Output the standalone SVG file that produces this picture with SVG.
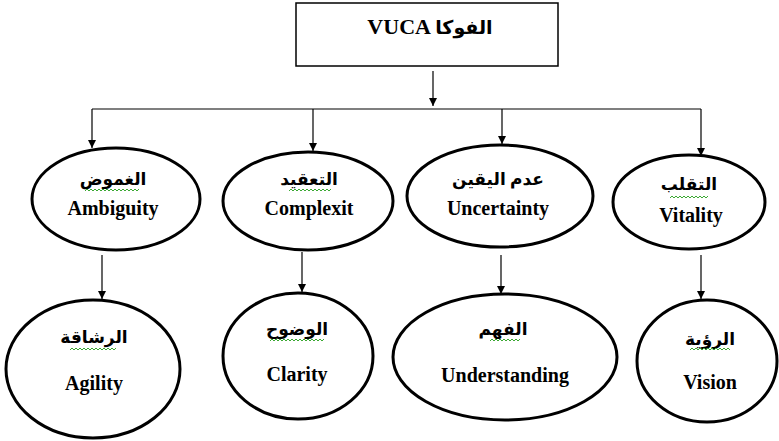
<svg xmlns="http://www.w3.org/2000/svg" width="779" height="441" viewBox="0 0 779 441">
<defs>
<marker id="ah" markerWidth="8" markerHeight="8" refX="8" refY="4" orient="auto" markerUnits="userSpaceOnUse">
<path d="M0,0 L8,4 L0,8 Z" fill="#000"/>
</marker>
<style>
.ell{fill:#fff;stroke:#000;stroke-width:3}
.box{fill:#fff;stroke:#000;stroke-width:1.5}
.con{fill:none;stroke:#000;stroke-width:1.2}
.en{font-family:'Liberation Serif','DejaVu Serif',serif;font-weight:700;font-size:20px;fill:#000;text-anchor:middle}
.ar{font-family:'Liberation Serif','DejaVu Sans',serif;font-weight:700;font-size:17px;fill:#000;text-anchor:middle}
.sq{fill:none;stroke:#3aa832;stroke-width:1}
</style>
</defs>
<rect width="779" height="441" fill="#fff"/>
<g id="connectors">
<line class="con" x1="433" y1="71" x2="433" y2="106" marker-end="url(#ah)"/>
<line class="con" x1="92" y1="109" x2="701" y2="109"/>
<line class="con" x1="92" y1="109" x2="92" y2="148" marker-end="url(#ah)"/>
<line class="con" x1="313" y1="109" x2="313" y2="151" marker-end="url(#ah)"/>
<line class="con" x1="502" y1="109" x2="502" y2="144" marker-end="url(#ah)"/>
<line class="con" x1="701" y1="109" x2="701" y2="156" marker-end="url(#ah)"/>
<line class="con" x1="102" y1="255" x2="102" y2="299" marker-end="url(#ah)"/>
<line class="con" x1="302" y1="252" x2="302" y2="292" marker-end="url(#ah)"/>
<line class="con" x1="501" y1="255" x2="501" y2="294" marker-end="url(#ah)"/>
<line class="con" x1="701" y1="255" x2="701" y2="299" marker-end="url(#ah)"/>
</g>
<g id="vuca">
<rect class="box" x="296" y="3" width="262" height="63"/>
<text class="en" x="430" y="34" font-size="22px" style="font-size:22px">VUCA <tspan class="ar" style="font-size:19px">الفوكا</tspan></text>
</g>
<g id="ambiguity">
<ellipse class="ell" cx="116" cy="199" rx="84" ry="51"/>
<text class="ar" x="113" y="185">الغموض</text>
<path class="sq" d="M85,191 l2,-2 l2,2 l2,-2 l2,2 l2,-2 l2,2 l2,-2 l2,2 l2,-2 l2,2 l2,-2 l2,2 l2,-2 l2,2 l2,-2 l2,2 l2,-2 l2,2 l2,-2 l2,2 l2,-2 l2,2 l2,-2 l2,2 l2,-2 l2,2 l2,-2"/>
<text class="en" x="113" y="215">Ambiguity</text>
</g>
<g id="complexity">
<ellipse class="ell" cx="308" cy="201" rx="85" ry="49"/>
<text class="ar" x="309" y="185">التعقيد</text>
<path class="sq" d="M289,191 l2,-2 l2,2 l2,-2 l2,2 l2,-2 l2,2 l2,-2 l2,2 l2,-2 l2,2 l2,-2 l2,2 l2,-2 l2,2 l2,-2 l2,2 l2,-2 l2,2 l2,-2 l2,2 l2,-2"/>
<text class="en" x="309" y="215">Complexit</text>
</g>
<g id="uncertainty">
<ellipse class="ell" cx="500" cy="196" rx="93" ry="51"/>
<text class="ar" x="498" y="185">عدم اليقين</text>
<text class="en" x="498" y="215">Uncertainty</text>
</g>
<g id="vitality">
<ellipse class="ell" cx="689" cy="202" rx="76" ry="47"/>
<text class="ar" x="689" y="190">التقلب</text>
<path class="sq" d="M670,198 l2,-2 l2,2 l2,-2 l2,2 l2,-2 l2,2 l2,-2 l2,2 l2,-2 l2,2 l2,-2 l2,2 l2,-2 l2,2 l2,-2 l2,2 l2,-2 l2,2 l2,-2"/>
<text class="en" x="691" y="222">Vitality</text>
</g>
<g id="agility">
<ellipse class="ell" cx="93" cy="369" rx="87" ry="69"/>
<text class="ar" x="94" y="343">الرشاقة</text>
<path class="sq" d="M70,350 l2,-2 l2,2 l2,-2 l2,2 l2,-2 l2,2 l2,-2 l2,2 l2,-2 l2,2 l2,-2 l2,2 l2,-2 l2,2 l2,-2 l2,2 l2,-2 l2,2 l2,-2 l2,2 l2,-2 l2,2 l2,-2"/>
<text class="en" x="94" y="390">Agility</text>
</g>
<g id="clarity">
<ellipse class="ell" cx="298" cy="356" rx="75" ry="63"/>
<text class="ar" x="297" y="335">الوضوح</text>
<path class="sq" d="M270,341 l2,-2 l2,2 l2,-2 l2,2 l2,-2 l2,2 l2,-2 l2,2 l2,-2 l2,2 l2,-2 l2,2 l2,-2 l2,2 l2,-2 l2,2 l2,-2 l2,2 l2,-2 l2,2 l2,-2 l2,2 l2,-2 l2,2 l2,-2 l2,2 l2,-2"/>
<text class="en" x="297" y="381">Clarity</text>
</g>
<g id="understanding">
<ellipse class="ell" cx="505" cy="357" rx="112" ry="63"/>
<text class="ar" x="503" y="335">الفهم</text>
<path class="sq" d="M490,341 l2,-2 l2,2 l2,-2 l2,2 l2,-2 l2,2 l2,-2 l2,2 l2,-2 l2,2 l2,-2 l2,2 l2,-2 l2,2 l2,-2"/>
<text class="en" x="505" y="382">Understanding</text>
</g>
<g id="vision">
<ellipse class="ell" cx="707" cy="361" rx="70" ry="61"/>
<text class="ar" x="710" y="345">الرؤية</text>
<path class="sq" d="M690,350 l2,-2 l2,2 l2,-2 l2,2 l2,-2 l2,2 l2,-2 l2,2 l2,-2 l2,2 l2,-2 l2,2 l2,-2 l2,2 l2,-2 l2,2 l2,-2 l2,2 l2,-2 l2,2"/>
<text class="en" x="710" y="389">Vision</text>
</g>
</svg>
